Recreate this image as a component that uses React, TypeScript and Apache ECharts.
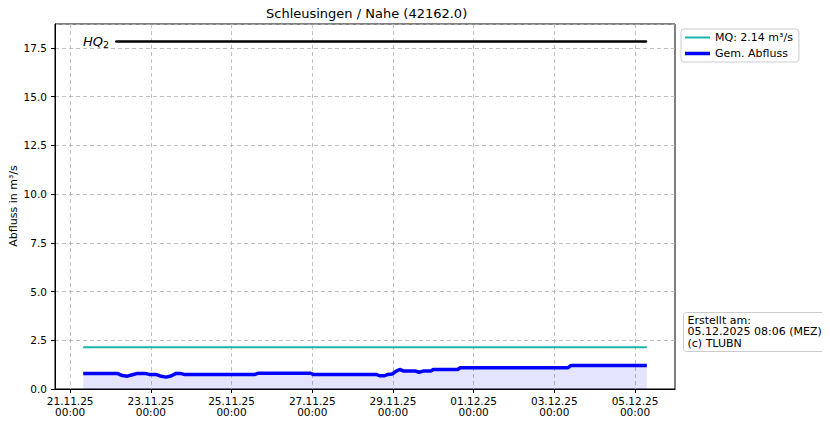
import * as echarts from "echarts";
import { useEffect, useRef } from "react";

const flowTimes = [
  "2025-11-21 07:45", "2025-11-22 04:00", "2025-11-22 07:00", "2025-11-22 10:00",
  "2025-11-22 13:00", "2025-11-22 16:00", "2025-11-22 20:30", "2025-11-22 23:00",
  "2025-11-23 03:00", "2025-11-23 05:30", "2025-11-23 09:00", "2025-11-23 12:00",
  "2025-11-23 15:00", "2025-11-23 17:30", "2025-11-23 19:45", "2025-11-25 14:00",
  "2025-11-25 16:00", "2025-11-26 23:00", "2025-11-27 00:30", "2025-11-28 14:00",
  "2025-11-28 16:00", "2025-11-28 19:00", "2025-11-28 21:00", "2025-11-28 23:30",
  "2025-11-29 02:00", "2025-11-29 04:00", "2025-11-29 06:30", "2025-11-29 13:30",
  "2025-11-29 15:30", "2025-11-29 18:00", "2025-11-29 22:30", "2025-11-30 00:00",
  "2025-11-30 14:30", "2025-11-30 16:00", "2025-12-03 08:00", "2025-12-03 10:00",
  "2025-12-05 07:00",
];
const flowValues = [
  0.8, 0.8, 0.69, 0.66, 0.73, 0.8, 0.8, 0.75,
  0.75, 0.67, 0.61, 0.67, 0.8, 0.8, 0.75, 0.75,
  0.81, 0.81, 0.75, 0.75, 0.68, 0.68, 0.75, 0.77,
  0.92, 1.0, 0.92, 0.92, 0.86, 0.92, 0.92, 1.0,
  1.0, 1.09, 1.09, 1.21, 1.21,
];

const mqValue = 2.14;
const hq2Value = 17.83;
const hq2Start = "2025-11-22 03:00";

const xTicks = [
  "2025-11-21 00:00", "2025-11-23 00:00", "2025-11-25 00:00", "2025-11-27 00:00",
  "2025-11-29 00:00", "2025-12-01 00:00", "2025-12-03 00:00", "2025-12-05 00:00",
];
const yMax = 18.73;

const toMs = (s: string) => new Date(s.replace(" ", "T")).getTime();
const pad = (n: number) => String(n).padStart(2, "0");

function App() {
  const ref = useRef<HTMLDivElement>(null);

  useEffect(() => {
    if (!ref.current) return;
    const chart = echarts.init(ref.current, undefined, { renderer: "svg" });

    const start = toMs(flowTimes[0]);
    const end = toMs(flowTimes[flowTimes.length - 1]);
    const margin = (end - start) * 0.05;
    const tickMs = xTicks.map(toMs);
    const font = "DejaVu Sans";
    const grid = { color: "#b0b0b0", type: [4, 3], width: 0.8 };

    chart.setOption({
      animation: false,
      textStyle: { fontFamily: font },
      title: {
        text: "Schleusingen / Nahe (42162.0)",
        left: 261,
        top: 2,
        textStyle: { fontSize: 13, fontWeight: "normal", color: "#000", fontFamily: font },
      },
      legend: {
        orient: "vertical",
        left: 681,
        top: 29,
        data: [
          { name: "MQ: 2.14 m³/s", icon: "path://M0,0L25,0L25,2L0,2Z" },
          { name: "Gem. Abfluss", icon: "path://M0,0L25,0L25,3.5L0,3.5Z" },
        ],
        itemWidth: 25,
        itemHeight: 10,
        itemGap: 5,
        padding: [3, 6, 3, 4],
        borderColor: "#cccccc",
        borderWidth: 1,
        borderRadius: 3,
        textStyle: { fontSize: 11, color: "#000", fontFamily: font },
      },
      grid: {
        left: 55,
        right: 155,
        top: 24,
        bottom: 37,
        show: true,
        borderColor: "#000",
        borderWidth: 1,
        outerBoundsMode: "none",
        containLabel: false,
      },
      xAxis: {
        type: "value",
        min: start - margin,
        max: end + margin,
        axisLine: { show: true, lineStyle: { color: "#000" } },
        axisTick: {
          show: true,
          length: 4,
          lineStyle: { color: "#000" },
          customValues: tickMs,
        },
        axisLabel: {
          customValues: tickMs,
          fontSize: 10.5,
          color: "#000",
          lineHeight: 11.5,
          margin: 6,
          hideOverlap: false,
          formatter: (v: number) => {
            const d = new Date(v);
            return `${pad(d.getDate())}.${pad(d.getMonth() + 1)}.${String(d.getFullYear()).slice(2)}\n${pad(d.getHours())}:${pad(d.getMinutes())}`;
          },
        },
        splitLine: { show: true, lineStyle: grid },
      },
      yAxis: {
        type: "value",
        min: 0,
        max: yMax,
        interval: 2.5,
        axisLine: { show: true, lineStyle: { color: "#000" } },
        axisTick: { show: true, length: 4, lineStyle: { color: "#000" } },
        axisLabel: {
          fontSize: 10.5,
          color: "#000",
          showMaxLabel: false,
          formatter: (v: number) => v.toFixed(1),
        },
        splitLine: { show: true, lineStyle: grid },
      },
      series: [
        {
          name: "MQ: 2.14 m³/s",
          type: "line",
          symbol: "none",
          color: "#20b2aa",
          lineStyle: { width: 2, color: "#20b2aa" },
          data: [
            [start, mqValue],
            [end, mqValue],
          ],
          z: 3,
        },
        {
          name: "Gem. Abfluss",
          type: "line",
          symbol: "none",
          color: "#0000ff",
          lineStyle: { width: 3.5, color: "#0000ff" },
          areaStyle: { color: "rgba(0,0,255,0.15)", origin: "start" },
          data: flowTimes.map((t, i) => [toMs(t), flowValues[i]]),
          z: 4,
        },
        {
          name: "HQ2",
          type: "line",
          symbol: "circle",
          symbolSize: 1,
          showSymbol: true,
          showAllSymbol: true,
          color: "#000",
          itemStyle: { color: "#000" },
          lineStyle: { width: 2.5, color: "#000" },
          data: [
            {
              value: [toMs(hq2Start), hq2Value],
              label: {
                show: true,
                position: "left",
                distance: 6,
                formatter: "{a|HQ}{b|2}",
                rich: {
                  a: { fontSize: 13, fontStyle: "italic", color: "#000", fontFamily: font },
                  b: { fontSize: 9.5, color: "#000", fontFamily: font, padding: [6, 0, 0, 0] },
                },
              },
            },
            [end, hq2Value],
          ],
          z: 3,
        },
      ],
      graphic: [
        {
          type: "text",
          x: 13,
          y: 206,
          rotation: Math.PI / 2,
          style: {
            text: "Abfluss in m³/s",
            fontSize: 11,
            fontFamily: font,
            fill: "#000",
            textAlign: "center",
            textVerticalAlign: "middle",
          },
        },
        {
          type: "group",
          left: 683,
          top: 312,
          children: [
            {
              type: "rect",
              shape: { x: 0, y: 0, width: 142, height: 39, r: 3 },
              style: { fill: "#fff", stroke: "#cccccc", lineWidth: 1 },
            },
            {
              type: "text",
              x: 4,
              y: 2,
              style: {
                text: "Erstellt am:\n05.12.2025 08:06 (MEZ)\n(c) TLUBN",
                fontSize: 11,
                lineHeight: 11.5,
                fontFamily: font,
                fill: "#000",
              },
            },
          ],
        },
      ],
    });

    return () => chart.dispose();
  }, []);

  return <div ref={ref} style={{ width: 830, height: 426, margin: -8 }} />;
}

export default App;
